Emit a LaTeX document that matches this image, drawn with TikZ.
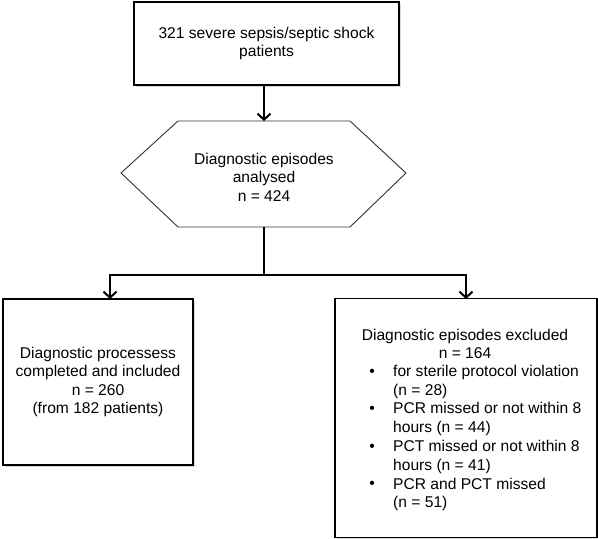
\documentclass[tikz,border=0pt]{standalone}
\usepackage{fontspec}
\setmainfont{Liberation Sans}
\usetikzlibrary{arrows.meta,shadows}
\begin{document}
\begin{tikzpicture}[x=1pt,y=-1pt,
  font=\fontsize{15.6}{18.6}\selectfont,
  box/.style={draw=black, fill=white, line width=1.4pt, inner sep=0pt, align=center,
    drop shadow={shadow xshift=1.5pt, shadow yshift=-1.5pt, fill=black!15, opacity=1}},
  hexshape/.style={draw=black!80, line width=0.9pt},
  txt/.style={inner sep=0pt, align=center},
  itemtxt/.style={inner sep=0pt, align=left, anchor=west},
  bul/.style={inner sep=0pt},
  link/.style={line width=2pt},
  conn/.style={line width=2pt, -{Straight Barb[length=6pt,width=13pt,line width=2pt]}}]
\useasboundingbox (0,0) rectangle (598,539);

% top box
\node[box, minimum width=265pt, minimum height=83pt] (top) at (266.5,43.5)
  {321 severe sepsis/septic shock\\patients};

% hexagon
\draw[hexshape] (121,173) -- (178,121) -- (350,121) -- (406,173) -- (350,227) -- (178,227) -- cycle;
\coordinate (hexTop) at (264,121);
\coordinate (hexBot) at (264,227);
\node[txt] (hex) at (264,177) {Diagnostic episodes\\analysed\\n = 424};

% left box
\node[box, minimum width=190pt, minimum height=166pt] (left) at (98,382)
  {Diagnostic processess\\completed and included\\n = 260\\(from 182 patients)};

% right box
\node[box, minimum width=262pt, minimum height=239pt] (right) at (466,418) {};
\node[txt] (rhead) at (465,344) {Diagnostic episodes excluded\\n = 164};
\node[bul] (b1) at (372,373) {•};
\node[itemtxt] (i1) at (393,382) {for sterile protocol violation\\(n = 28)};
\node[bul] (b2) at (372,410) {•};
\node[itemtxt] (i2) at (393,419) {PCR missed or not within 8\\hours (n = 44)};
\node[bul] (b3) at (372,448) {•};
\node[itemtxt] (i3) at (393,457) {PCT missed or not within 8\\hours (n = 41)};
\node[bul] (b4) at (372,485) {•};
\node[itemtxt] (i4) at (393,494.5) {PCR and PCT missed\\(n = 51)};

% connectors
\coordinate (split) at (264,275);
\coordinate (la) at (110,299);
\coordinate (ra) at (466,299);
\draw[conn] (top.south -| hexTop) -- (hexTop);
\draw[link] (hexBot) -- (split);
\draw[conn] (split) -| (la);
\draw[conn] (split) -| (ra);
\end{tikzpicture}
\end{document}
